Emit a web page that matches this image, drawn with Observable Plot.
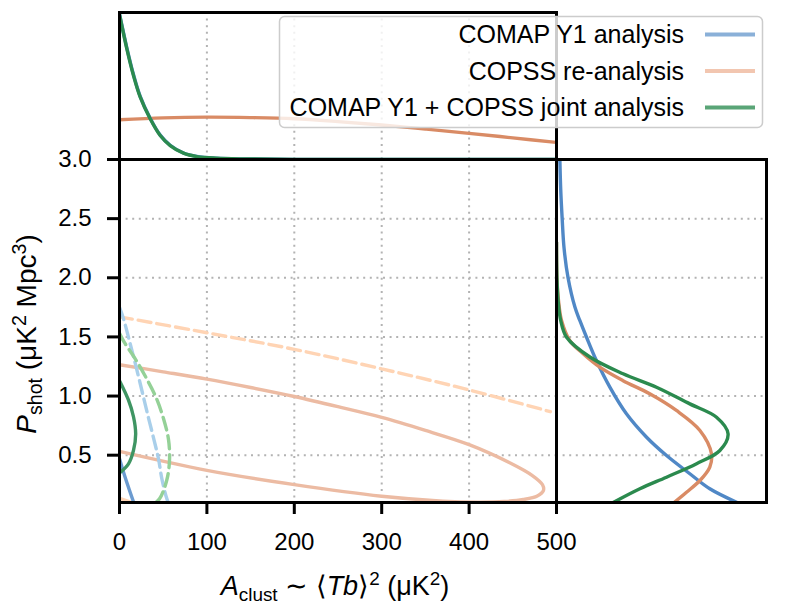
<!DOCTYPE html>
<html><head><meta charset="utf-8">
<script src="https://cdn.jsdelivr.net/npm/d3@7"></script>
<script src="https://cdn.jsdelivr.net/npm/@observablehq/plot@0.6"></script>
<style>
body{margin:0;background:#fff;}
#wrap{position:relative;width:797px;height:613px;font-family:"Liberation Sans",Arial,sans-serif;}
#wrap svg{position:absolute;left:0;top:0;}
</style></head><body><div id="wrap"></div>
<script>
// ---------- tick labels ----------
const xTicks = [0, 100, 200, 300, 400, 500];
const yTicks = [0.5, 1.0, 1.5, 2.0, 2.5, 3.0];
const gridXVals = [100, 200, 300, 400];
const gridYVals = [0.5, 1.0, 1.5, 2.0, 2.5];

// ---------- series names ----------
const seriesNames = ["COMAP Y1 analysis", "COPSS re-analysis", "COMAP Y1 + COPSS joint analysis"];

// ---------- main panel contours (A_clust, P_shot) ----------
const copss95A = [0, 100, 200, 300, 400, 493];
const copss95P = [1.67, 1.535, 1.395, 1.23, 1.052, 0.868];
const copss95bA = [0, 12];
const copss95bP = [0.135, 0.105];
const copss68A = [0, 50, 100, 150, 200, 250, 300, 350, 400, 447, 472, 484, 485, 478, 462, 440, 410, 370, 300, 200, 100, 0];
const copss68P = [1.265, 1.205, 1.143, 1.072, 0.996, 0.91, 0.819, 0.709, 0.589, 0.434, 0.33, 0.25, 0.2, 0.155, 0.125, 0.108, 0.103, 0.112, 0.153, 0.251, 0.372, 0.532];
const comap68A = [0, 7, 16];
const comap68P = [0.47, 0.3, 0.105];
const comap95A = [0, 4.6, 12.2, 19.1, 25.6, 32, 38.9, 44.6, 48.5, 54.2, 57];
const comap95P = [1.75, 1.653, 1.442, 1.244, 1.047, 0.85, 0.647, 0.47, 0.3, 0.131, 0.08];
const joint68A = [0, 10.3, 16, 18.5, 16, 10.3, 0];
const joint68P = [1.13, 0.965, 0.825, 0.68, 0.54, 0.427, 0.35];
const joint95A = [0, 5.4, 18, 30.5, 42, 50.4, 56.1, 57.2, 54.2, 45.8, 38];
const joint95P = [1.53, 1.455, 1.315, 1.154, 0.985, 0.808, 0.63, 0.455, 0.292, 0.131, 0.08];

// ---------- right panel marginals (P_shot, density) ----------
const comapRP = [3.0, 2.75, 2.5, 2.25, 2.0, 1.75, 1.639, 1.497, 1.30, 1.075, 0.85, 0.652, 0.497, 0.343, 0.216, 0.1];
const comapRD = [0.016, 0.02, 0.027, 0.036, 0.055, 0.088, 0.111, 0.143, 0.19, 0.254, 0.333, 0.429, 0.524, 0.635, 0.73, 0.86];
const copssRP = [2.3, 2.0, 1.8, 1.639, 1.47, 1.357, 1.244, 1.13, 1.019, 0.878, 0.709, 0.512, 0.4, 0.286, 0.187, 0.1];
const copssRD = [0.0, 0.002, 0.01, 0.024, 0.063, 0.127, 0.206, 0.317, 0.444, 0.571, 0.683, 0.738, 0.73, 0.683, 0.619, 0.56];
const jointRP = [2.3, 2.0, 1.8, 1.64, 1.497, 1.33, 1.188, 1.075, 0.934, 0.821, 0.68, 0.54, 0.428, 0.314, 0.216, 0.1];
const jointRD = [0.0, 0.002, 0.008, 0.02, 0.048, 0.159, 0.317, 0.476, 0.635, 0.762, 0.817, 0.778, 0.667, 0.524, 0.397, 0.27];

// ---------- top panel marginals (A_clust, density) ----------
const comapTA = [0, 8.4, 16, 23.7, 35.1, 46.6, 58, 73.2, 88.6, 111, 140, 200, 300, 500];
const comapTD = [0.99, 0.76, 0.578, 0.43, 0.281, 0.166, 0.097, 0.044, 0.021, 0.009, 0.004, 0.001, 0, 0];
const jointTA = [0, 8.4, 16, 23.7, 35.1, 46.6, 58, 73.2, 88.6, 111, 140, 200, 300, 500];
const jointTD = [0.985, 0.753, 0.571, 0.424, 0.277, 0.163, 0.095, 0.043, 0.02, 0.009, 0.004, 0.001, 0, 0];
const copssTA = [0, 50, 100, 150, 200, 250, 300, 350, 400, 450, 500];
const copssTD = [0.27, 0.283, 0.288, 0.285, 0.277, 0.258, 0.235, 0.207, 0.178, 0.147, 0.116];

const zipXY = (xs, ys) => xs.map((x, i) => ({x, y: ys[i]}));

const FONT = '"Liberation Sans", Arial, sans-serif';
const FS = 24;
const LW = 3.4;
const W = 797, H = 613;
const gridStyle = {stroke: "#b3b3b3", strokeOpacity: 1, strokeWidth: 2, strokeDasharray: "2,4.6"};
const css = {background: "transparent", overflow: "visible", fontFamily: FONT, color: "black"};
const wrap = document.getElementById("wrap");

const C = {
  blueM: "#5088c6", orangeM: "#d98b65", greenM: "#2b8a4e",
  orange68: "#ecbba3", orange95: "#ffd4b4", blue68: "#6c9bd0", blue95: "#a9cfea",
  green68: "#3f9563", green95: "#94d197"
};
const mOpts = (stroke) => ({x: "x", y: "y", stroke, strokeWidth: LW, curve: "catmull-rom", clip: true});

// ---------- top panel ----------
const topPanel = Plot.plot({
  width: W, height: H,
  marginLeft: 119, marginRight: 241, marginTop: 12, marginBottom: 454,
  x: {domain: [0, 500], axis: null},
  y: {domain: [0, 1], axis: null},
  style: css,
  marks: [
    Plot.gridX(gridXVals, gridStyle),
    Plot.line(zipXY(copssTA, copssTD), mOpts(C.orangeM)),
    Plot.line(zipXY(comapTA, comapTD), mOpts(C.blueM)),
    Plot.line(zipXY(jointTA, jointTD), mOpts(C.greenM)),
    Plot.frame({stroke: "black", strokeWidth: 3})
  ]
});
wrap.appendChild(topPanel);

// ---------- right panel ----------
const rightPanel = Plot.plot({
  width: W, height: H,
  marginLeft: 556, marginRight: 31, marginTop: 159, marginBottom: 111,
  x: {domain: [0, 1], axis: null},
  y: {domain: [0.1, 3.0], axis: null},
  style: css,
  marks: [
    Plot.gridY(gridYVals, gridStyle),
    Plot.line(zipXY(comapRD, comapRP), mOpts(C.blueM)),
    Plot.line(zipXY(copssRD, copssRP), mOpts(C.orangeM)),
    Plot.line(zipXY(jointRD, jointRP), mOpts(C.greenM)),
    Plot.frame({stroke: "black", strokeWidth: 3})
  ]
});
wrap.appendChild(rightPanel);

// ---------- main panel ----------
const lineOpts = (stroke, dashed) => ({x: "x", y: "y", stroke, strokeWidth: LW, curve: "catmull-rom", clip: true, strokeDasharray: dashed ? "13,6" : null});
const mainPanel = Plot.plot({
  width: W, height: H,
  marginLeft: 119, marginRight: 241, marginTop: 159, marginBottom: 111,
  x: {domain: [0, 500]},
  y: {domain: [0.1, 3.0]},
  style: css,
  marks: [
    Plot.gridX(gridXVals, gridStyle),
    Plot.gridY(gridYVals, gridStyle),
    Plot.line(zipXY(copss95A, copss95P), lineOpts(C.orange95, true)),
    Plot.line(zipXY(copss95bA, copss95bP), lineOpts(C.orange95, true)),
    Plot.line(zipXY(copss68A, copss68P), lineOpts(C.orange68, false)),
    Plot.line(zipXY(comap95A, comap95P), lineOpts(C.blue95, true)),
    Plot.line(zipXY(joint95A, joint95P), lineOpts(C.green95, true)),
    Plot.line(zipXY(comap68A, comap68P), lineOpts(C.blue68, false)),
    Plot.line(zipXY(joint68A, joint68P), lineOpts(C.green68, false)),
    Plot.frame({stroke: "black", strokeWidth: 3}),
    Plot.axisX(xTicks, {tickSize: 12, tickPadding: 18, fontSize: FS, strokeWidth: 3, label: null, tickFormat: d => String(d), fill: "black"}),
    Plot.axisY(yTicks, {tickSize: 12, tickPadding: 16, fontSize: FS, strokeWidth: 3, label: null, tickFormat: d3.format(".1f"), fill: "black"})
  ]
});
wrap.appendChild(mainPanel);

// ---------- overlay: legend and axis labels ----------
const ov = d3.select(wrap).append("svg").attr("width", W).attr("height", H)
  .style("font-family", FONT).style("overflow", "visible");

const LFS = 25;
const lg = ov.append("g");
lg.append("rect").attr("x", 279.5).attr("y", 16.5).attr("width", 483).attr("height", 111).attr("rx", 5)
  .attr("fill", "white").attr("fill-opacity", 0.8).attr("stroke", "#cccccc").attr("stroke-width", 1.5);
const legendColors = ["#8ab0d8", "#f2c6b0", "#5aa577"];
seriesNames.forEach((name, i) => {
  const cy = 34.5 + i * 36.5;
  lg.append("text").attr("x", 684).attr("y", cy).attr("dy", "0.35em").attr("text-anchor", "end")
    .attr("font-size", LFS).attr("fill", "black").text(name);
  lg.append("line").attr("x1", 705).attr("x2", 755).attr("y1", cy).attr("y2", cy)
    .attr("stroke", legendColors[i]).attr("stroke-width", 4);
});

// x label: A_clust ~ <Tb>^2 (μK^2)
const XFS = 27;
const xl = ov.append("text").attr("x", 335).attr("y", 595).attr("text-anchor", "middle").attr("font-size", XFS).attr("fill", "black");
xl.append("tspan").attr("font-style", "italic").text("A");
xl.append("tspan").attr("font-size", XFS * 0.7).attr("dy", 6).text("clust");
xl.append("tspan").attr("dy", -6).text(" \u223C \u27E8");
xl.append("tspan").attr("font-style", "italic").text("Tb");
xl.append("tspan").text("\u27E9");
xl.append("tspan").attr("font-size", XFS * 0.7).attr("dy", -10).text("2");
xl.append("tspan").attr("dy", 10).text(" (\u03BCK");
xl.append("tspan").attr("font-size", XFS * 0.7).attr("dy", -10).text("2");
xl.append("tspan").attr("dy", 10).text(")");

// y label: P_shot (μK^2 Mpc^3)
const YFS = 28;
const yl = ov.append("text").attr("transform", "translate(36,334) rotate(-90)").attr("text-anchor", "middle").attr("font-size", YFS).attr("fill", "black");
yl.append("tspan").attr("font-style", "italic").text("P");
yl.append("tspan").attr("font-size", YFS * 0.7).attr("dy", 6).text("shot");
yl.append("tspan").attr("dy", -6).text(" (\u03BCK");
yl.append("tspan").attr("font-size", YFS * 0.7).attr("dy", -10).text("2");
yl.append("tspan").attr("dy", 10).text(" Mpc");
yl.append("tspan").attr("font-size", YFS * 0.7).attr("dy", -10).text("3");
yl.append("tspan").attr("dy", 10).text(")");
</script></body></html>
